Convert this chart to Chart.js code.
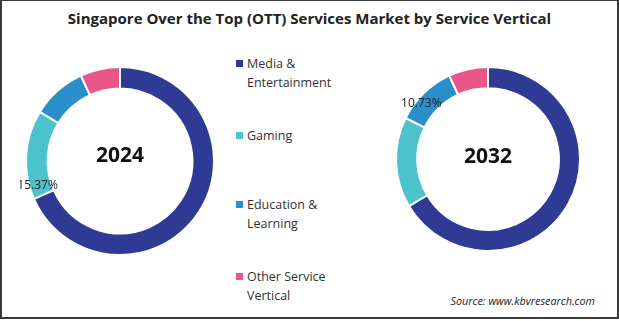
<!DOCTYPE html>
<html>
<head>
<meta charset="utf-8">
<script src="https://cdn.jsdelivr.net/npm/chart.js@4.4.1/dist/chart.umd.min.js"></script>
<style>
  html, body { margin: 0; padding: 0; background: #fff; }
  body { width: 619px; height: 321px; position: relative; overflow: hidden; font-family: 'Open Sans', sans-serif; }
  #frame { position: absolute; left: 0; top: 0; width: 615px; height: 316px; border: 2px solid #3a3a3a; border-top: 1px solid #3a3a3a; }
  #title { position: absolute; left: 0; width: 619px; top: 8px; text-align: center; font-weight: bold; font-size: 15px; color: #222; }
  .pie { position: absolute; width: 200px; height: 200px; }
  #legend { position: absolute; left: 236px; top: 54px; font-size: 12.5px; color: #333; line-height: 19px; }
  .item { position: absolute; left: 0; white-space: nowrap; }
  .item i { position: absolute; left: 0; top: 6px; width: 7px; height: 7px; }
  .item span { display: block; margin-left: 11px; }
  #source { position: absolute; right: 24px; top: 293px; font-style: italic; font-size: 10.8px; color: #222; }
</style>
</head>
<body>
<div id="frame"></div>
<div id="title">Singapore Over the Top (OTT) Services Market by Service Vertical</div>
<div class="pie" style="left:20px; top:61px"><canvas id="pie2024"></canvas></div>
<div class="pie" style="left:388px; top:59px"><canvas id="pie2032"></canvas></div>
<div id="legend"></div>
<div id="source">Source: www.kbvresearch.com</div>
<script>
const categories = ['Media & Entertainment', 'Gaming', 'Education & Learning', 'Other Service Vertical'];
const legendLines = [['Media &', 'Entertainment'], ['Gaming'], ['Education &', 'Learning'], ['Other Service', 'Vertical']];
const years = ['2024', '2032'];
const share2024 = [68.4, 15.37, 9.4, 6.83];
const share2032 = [66.45, 15.9, 10.73, 6.92];
const labelledIndex = [1, 2];   // which slice carries the % label in each year
const colors = ['#2e3a93', '#4cc3cc', '#2a8ecb', '#e9578a'];

// legend built from the categories
const legendTops = [0, 72, 141, 213];
const legend = document.getElementById('legend');
legendLines.forEach((lines, i) => {
    const d = document.createElement('div');
    d.className = 'item';
    d.style.top = legendTops[i] + 'px';
    d.innerHTML = '<i style="background:' + colors[i] + '"></i><span>' + lines.join('<br>').replace(/&(?!lt|gt|amp)/g, '&amp;') + '</span>';
    legend.appendChild(d);
});

const centerAndLabel = {
    id: 'centerAndLabel',
    afterDatasetsDraw(chart, args, opts) {
        const ctx = chart.ctx;
        const meta = chart.getDatasetMeta(0);
        const arc = meta.data[0];
        ctx.save();
        ctx.fillStyle = '#111';
        ctx.textAlign = 'center';
        ctx.textBaseline = 'middle';
        ctx.font = "bold 21px 'Open Sans', sans-serif";
        ctx.fillText(opts.year, arc.x, arc.y + opts.dy);

        const el = meta.data[opts.index];
        const a = el.startAngle + (el.endAngle - el.startAngle) * opts.frac;
        const r = el.outerRadius - opts.inset;
        const v = chart.data.datasets[0].data[opts.index];
        ctx.font = "12px 'Open Sans', sans-serif";
        ctx.fillStyle = '#222';
        ctx.fillText(v.toFixed(2) + '%', el.x + Math.cos(a) * r, el.y + Math.sin(a) * r);
        ctx.restore();
    }
};

function makePie(id, values, year, idx, radius, label) {
    new Chart(document.getElementById(id), {
        type: 'doughnut',
        data: {
            labels: categories,
            datasets: [{
                data: values,
                backgroundColor: colors,
                borderColor: '#fff',
                borderWidth: 2,
            }]
        },
        options: {
            responsive: true,
            maintainAspectRatio: false,
            animation: false,
            radius: radius,
            cutout: '77%',
            layout: { padding: 0 },
            plugins: {
                legend: { display: false },
                tooltip: { enabled: false },
                centerAndLabel: Object.assign({ year: year, index: idx }, label),
            }
        },
        plugins: [centerAndLabel]
    });
}

makePie('pie2024', share2024, years[0], labelledIndex[0], 94, { frac: 0.13, inset: 8, dy: -5 });
makePie('pie2032', share2032, years[1], labelledIndex[1], 92, { frac: 0.35, inset: 5, dy: -2 });
</script>
</body>
</html>
